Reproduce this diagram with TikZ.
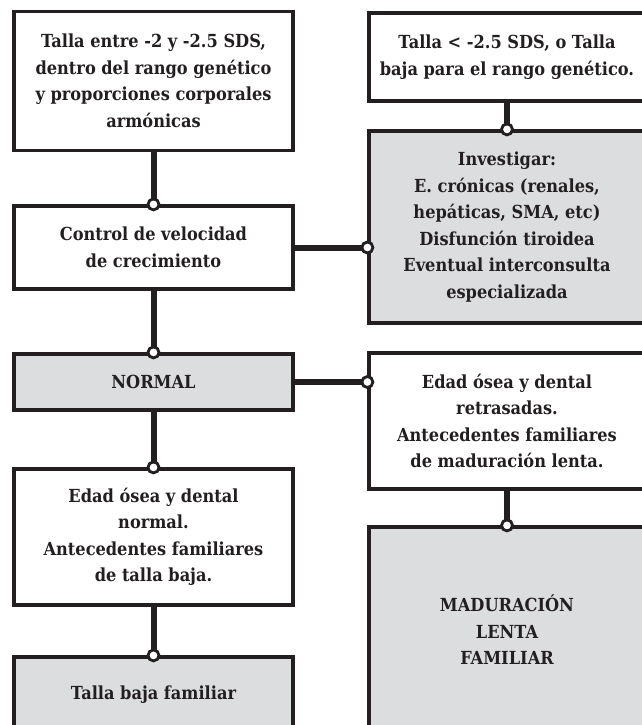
\documentclass[tikz,border=0pt]{standalone}
\usepackage{fontspec}
\setmainfont{DejaVu Serif Condensed}
\definecolor{ink}{HTML}{231F20}
\definecolor{boxgray}{HTML}{DCDDDF}
\begin{document}
\begin{tikzpicture}[x=1pt,y=-1pt,
  box/.style={draw=ink, line width=3.2pt, fill=white, inner sep=0pt,
    align=center, text=ink, font=\fontsize{18}{26.5}\selectfont\bfseries},
  graybox/.style={box, fill=boxgray},
  leftcol/.style={minimum width=279pt},
  rightcol/.style={minimum width=276pt},
  conn/.style={draw=ink, line width=6pt},
  joint/.style={circle, draw=ink, fill=white, line width=2.8pt,
    minimum size=11pt, inner sep=0pt}]
\clip (0,0) rectangle (642,725);
\fill[white] (0,0) rectangle (642,725);

% left column
\node[box, leftcol, minimum height=139pt] (A) at (153.5,81)
  {Talla entre -2 y -2.5 SDS,\\dentro del rango genético\\y proporciones corporales\\armónicas};
\node[box, leftcol, minimum height=83pt] (D) at (153.5,247.5)
  {Control de velocidad\\de crecimiento};
\node[graybox, leftcol, minimum height=56pt] (N) at (153.5,382)
  {NORMAL};
\node[box, leftcol, minimum height=136pt] (F) at (153.5,537)
  {Edad ósea y dental\\normal.\\Antecedentes familiares\\de talla baja.};
\node[graybox, leftcol, minimum height=76pt] (G) at (153.5,695)
  {Talla baja familiar};

% right column
\node[box, rightcol, minimum height=88pt] (B) at (507,57)
  {Talla < -2.5 SDS, o Talla\\baja para el rango genético.};
\node[graybox, rightcol, minimum height=192pt] (C) at (507,227)
  {Investigar:\\E. crónicas (renales,\\hepáticas, SMA, etc)\\Disfunción tiroidea\\Eventual interconsulta\\especializada};
\node[box, rightcol, minimum height=136pt] (E) at (507,421)
  {Edad ósea y dental\\retrasadas.\\Antecedentes familiares\\de maduración lenta.};
\node[graybox, rightcol, minimum height=206pt] (H) at (507,630)
  {MADURACIÓN\\LENTA\\FAMILIAR};

% connectors
\draw[conn] (A.south) -- (D.north);
\draw[conn] (D.south) -- (N.north);
\draw[conn] (N.south) -- (F.north);
\draw[conn] (F.south) -- (G.north);
\draw[conn] (B.south) -- (C.north);
\draw[conn] (E.south) -- (H.north);
\draw[conn] (D.east) -- (D.east -| C.west) coordinate (dc);
\draw[conn] (N.east) -- (N.east -| E.west) coordinate (ne);

% joints at the receiving ends
\foreach \p in {D.north, N.north, F.north, G.north, C.north, H.north, dc, ne}
  \node[joint] at (\p) {};
\end{tikzpicture}
\end{document}
